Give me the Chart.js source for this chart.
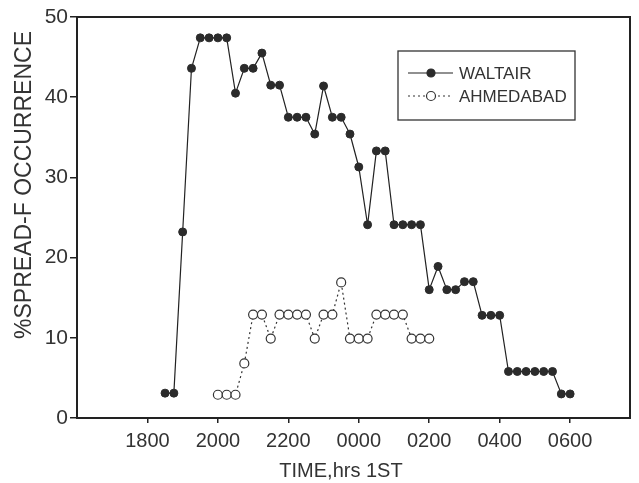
<!DOCTYPE html>
<html>
<head>
<meta charset="utf-8">
<script src="https://cdn.jsdelivr.net/npm/chart.js@4.4.1/dist/chart.umd.min.js"></script>
<style>
  html, body { margin: 0; padding: 0; background: #fff; }
  #wrap { width: 639px; height: 483px; }
</style>
</head>
<body>
<div id="wrap"><canvas id="spread-chart" width="639" height="483"></canvas></div>
<script>
// times in hours IST, past midnight continues as 24, 25, ...
const waltairTimes = [18.5, 18.75, 19, 19.25, 19.5, 19.75, 20, 20.25, 20.5, 20.75, 21, 21.25, 21.5, 21.75, 22, 22.25, 22.5, 22.75, 23, 23.25, 23.5, 23.75, 24, 24.25, 24.5, 24.75, 25, 25.25, 25.5, 25.75, 26, 26.25, 26.5, 26.75, 27, 27.25, 27.5, 27.75, 28, 28.25, 28.5, 28.75, 29, 29.25, 29.5, 29.75, 30];
const waltairValues = [3.1, 3.1, 23.2, 43.6, 47.4, 47.4, 47.4, 47.4, 40.5, 43.6, 43.6, 45.5, 41.5, 41.5, 37.5, 37.5, 37.5, 35.4, 41.4, 37.5, 37.5, 35.4, 31.3, 24.1, 33.3, 33.3, 24.1, 24.1, 24.1, 24.1, 16, 18.9, 16, 16, 17, 17, 12.8, 12.8, 12.8, 5.8, 5.8, 5.8, 5.8, 5.8, 5.8, 3, 3];

const ahmedabadTimes = [20, 20.25, 20.5, 20.75, 21, 21.25, 21.5, 21.75, 22, 22.25, 22.5, 22.75, 23, 23.25, 23.5, 23.75, 24, 24.25, 24.5, 24.75, 25, 25.25, 25.5, 25.75, 26];
const ahmedabadValues = [2.9, 2.9, 2.9, 6.8, 12.9, 12.9, 9.9, 12.9, 12.9, 12.9, 12.9, 9.9, 12.9, 12.9, 16.9, 9.9, 9.9, 9.9, 12.9, 12.9, 12.9, 12.9, 9.9, 9.9, 9.9];

const xTickHours = [18, 20, 22, 24, 26, 28, 30];
const xTickLabels = ["1800", "2000", "2200", "0000", "0200", "0400", "0600"];
const yTicks = [0, 10, 20, 30, 40, 50];

const FONT = "'Liberation Sans', Arial, sans-serif";
const INK = "#222";

function toPoints(xs, ys) {
  return xs.map((x, i) => ({ x: x, y: ys[i] }));
}

// frame, axis titles and the boxed legend
const decor = {
  id: "decor",
  afterDraw(chart) {
    const c = chart.ctx;
    const a = chart.chartArea;
    c.save();
    c.strokeStyle = INK;
    c.lineWidth = 2;
    c.strokeRect(a.left, a.top, a.right - a.left, a.bottom - a.top);

    c.fillStyle = "#333";
    c.font = "20px " + FONT;
    c.textAlign = "center";
    c.textBaseline = "middle";
    c.fillText("TIME,hrs 1ST", 341, 471);

    c.translate(25, 185);
    c.rotate(-Math.PI / 2);
    c.font = "23px " + FONT;
    c.fillText("%SPREAD-F OCCURRENCE", 0, 0);
    c.restore();

    // legend box
    c.save();
    c.strokeStyle = "#333";
    c.lineWidth = 1.3;
    c.strokeRect(398, 51, 177, 69);
    const rows = [
      { ds: chart.data.datasets[0], y: 73 },
      { ds: chart.data.datasets[1], y: 96 }
    ];
    rows.forEach((r) => {
      c.strokeStyle = r.ds.borderColor;
      c.lineWidth = r.ds.borderWidth;
      c.setLineDash(r.ds.borderDash || []);
      c.beginPath();
      c.moveTo(408, r.y);
      c.lineTo(453, r.y);
      c.stroke();
      c.setLineDash([]);
      c.beginPath();
      c.arc(431, r.y, r.ds.pointRadius, 0, Math.PI * 2);
      c.fillStyle = r.ds.pointBackgroundColor;
      c.fill();
      c.strokeStyle = r.ds.pointBorderColor;
      c.lineWidth = 1.2;
      c.stroke();
      c.fillStyle = "#333";
      c.font = "17px " + FONT;
      c.textAlign = "left";
      c.textBaseline = "middle";
      c.fillText(r.ds.label, 459, r.y + 1);
    });
    c.restore();
  }
};

const ctx = document.getElementById("spread-chart").getContext("2d");

new Chart(ctx, {
  type: "line",
  data: {
    datasets: [
      {
        label: "WALTAIR",
        data: toPoints(waltairTimes, waltairValues),
        borderColor: INK,
        borderWidth: 1.2,
        pointBackgroundColor: "#2b2b2b",
        pointBorderColor: "#2b2b2b",
        pointRadius: 4,
        pointBorderWidth: 1,
        tension: 0,
        fill: false
      },
      {
        label: "AHMEDABAD",
        data: toPoints(ahmedabadTimes, ahmedabadValues),
        borderColor: "#333",
        borderWidth: 1.2,
        borderDash: [2, 3],
        pointBackgroundColor: "#fff",
        pointBorderColor: "#333",
        pointRadius: 4.5,
        pointBorderWidth: 1.2,
        tension: 0,
        fill: false
      }
    ]
  },
  options: {
    responsive: false,
    animation: false,
    layout: { padding: { top: 17, right: 9, left: 0, bottom: 0 } },
    plugins: {
      legend: { display: false },
      tooltip: { enabled: false }
    },
    scales: {
      x: {
        type: "linear",
        min: 16,
        max: 31.7,
        afterBuildTicks: (scale) => {
          scale.ticks = xTickHours.map((v) => ({ value: v }));
        },
        afterFit: (scale) => {
          scale.height = 65;
        },
        border: { display: false },
        grid: {
          drawOnChartArea: false,
          drawTicks: true,
          tickLength: 5,
          color: INK,
          lineWidth: 1.5
        },
        ticks: {
          autoSkip: false,
          maxRotation: 0,
          padding: 6,
          color: "#333",
          font: { family: FONT, size: 20 },
          callback: (v) => xTickLabels[xTickHours.indexOf(v)]
        }
      },
      y: {
        min: 0,
        max: 50,
        afterBuildTicks: (scale) => {
          scale.ticks = yTicks.map((v) => ({ value: v }));
        },
        afterFit: (scale) => {
          scale.width = 77;
        },
        border: { display: false },
        grid: {
          drawOnChartArea: false,
          drawTicks: true,
          tickLength: 7,
          color: INK,
          lineWidth: 1.5
        },
        ticks: {
          padding: 2,
          color: "#333",
          font: { family: FONT, size: 21 }
        }
      }
    }
  },
  plugins: [decor]
});
</script>
</body>
</html>
